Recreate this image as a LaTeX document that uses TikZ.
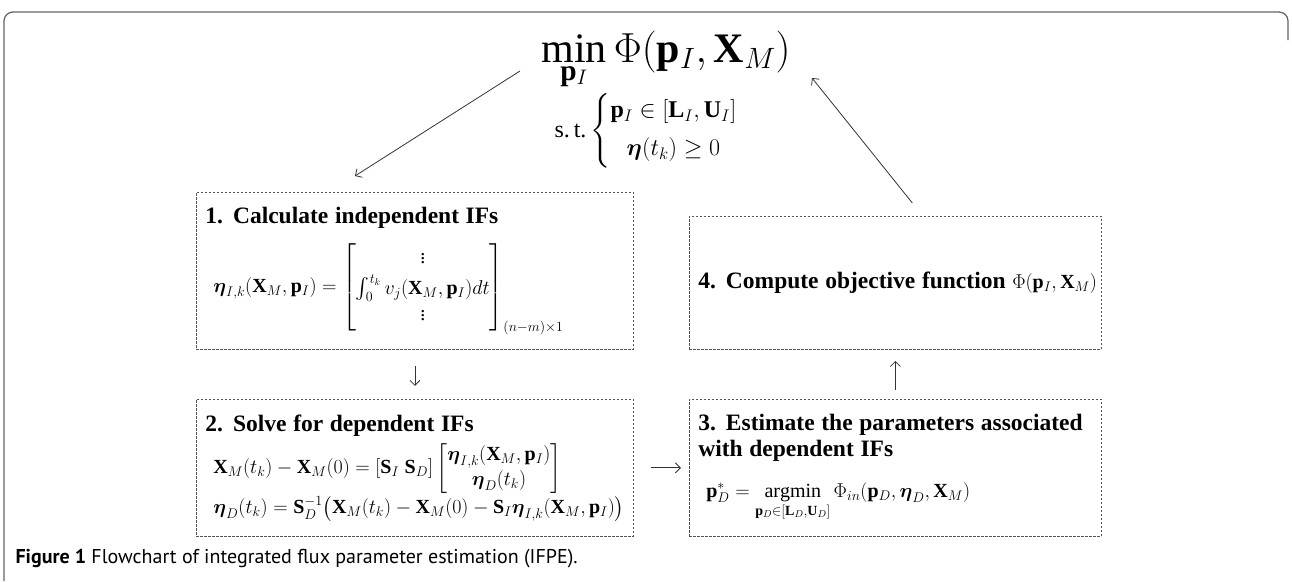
\RequirePackage{fix-cm}
\documentclass[tikz,border=0pt]{standalone}
\usepackage{amsmath}
\usepackage{fontspec}
\setmainfont{Liberation Serif}
\newfontfamily\capfont{PT Sans}
\usepackage{xcolor}
\usepackage{tikz}
\usetikzlibrary{arrows.meta, positioning, calc}
\definecolor{linegray}{HTML}{333333}
\definecolor{dashgray}{HTML}{555555}
\definecolor{framegray}{HTML}{666666}
\newcommand{\steptitle}[1]{{\fontsize{23.5}{28}\selectfont\bfseries #1}}
\newcommand{\bv}[1]{\mathbf{#1}}
\newcommand{\bfeta}{\boldsymbol{\eta}}
\tikzset{
    stepbox/.style={
        draw=dashgray,
        dash pattern=on 2.5pt off 1.5pt,
        line width=0.9pt,
        align=left,
        inner xsep=9pt,
        font=\fontsize{20}{25}\selectfont
    },
    leftbox/.style={stepbox, minimum width=437pt, text width=419pt},
    rightbox/.style={stepbox, minimum width=412pt, text width=394pt},
    formula/.style={inner sep=0pt},
    flow/.style={-{Straight Barb[length=5pt,width=10pt]}, line width=0.8pt, draw=linegray},
    frame/.style={draw=framegray, line width=1.3pt, rounded corners=9pt}
}

\begin{document}
\begin{tikzpicture}[x=1pt, y=-1pt]
    \useasboundingbox (0,0) rectangle (1292,581);
    \draw[frame] (4,581) -- (4,12) -- (1288,12) -- (1288,40);

    % objective and constraints
    \node[formula, anchor=base] (obj) at (666,62)
        {\fontsize{42}{50}\selectfont$\displaystyle\min_{\bv p_I}\Phi(\bv p_I,\bv X_M)$};
    \node[formula] (cons) at (646,131)
        {\fontsize{24}{29}\selectfont$\text{s.\,t.}\left\{\begin{array}{@{}c@{}}\bv p_I\in[\bv L_I,\bv U_I]\\[9pt]\bfeta(t_k)\geq 0\end{array}\right.$};

    % the four steps
    \node[leftbox, minimum height=157pt, anchor=north west] (calcind) at (196,192)
        {\steptitle{1. Calculate independent IFs}\\[14pt]
         \hspace*{8pt}$\bfeta_{I,k}(\bv X_M,\bv p_I)=\begin{bmatrix}\vdots\\[3pt] \int_0^{t_k} v_j(\bv X_M,\bv p_I)dt\\[1pt] \vdots\end{bmatrix}_{(n-m)\times 1}$};
    \node[leftbox, minimum height=137pt, below=49pt of calcind] (solvedep)
        {\steptitle{2. Solve for dependent IFs}\\[6pt]
         \hspace*{8pt}$\bv X_M(t_k)-\bv X_M(0)=[\bv S_I\;\bv S_D]\begin{bmatrix}\bfeta_{I,k}(\bv X_M,\bv p_I)\\ \bfeta_D(t_k)\end{bmatrix}$\\[2pt]
         \hspace*{8pt}$\bfeta_D(t_k)=\bv S_D^{-1}\bigl(\bv X_M(t_k)-\bv X_M(0)-\bv S_I\bfeta_{I,k}(\bv X_M,\bv p_I)\bigr)$};
    \node[rightbox, minimum height=137pt, right=55pt of solvedep] (estpar)
        {\steptitle{3. Estimate the parameters associated}\\[1pt]
         \steptitle{with dependent IFs}\\[16pt]
         \hspace*{8pt}$\displaystyle\bv p_D^{*}=\operatorname*{argmin}_{\bv p_D\in[\bv L_D,\bv U_D]}\Phi_{in}(\bv p_D,\bfeta_D,\bv X_M)$};
    \node[rightbox, minimum height=133pt, above=49pt of estpar] (objfun)
        {\mbox{\steptitle{4. Compute objective function} $\Phi(\bv p_I,\bv X_M)$}};

    \coordinate (objleft) at ([xshift=-146pt,yshift=-9pt]obj.base);
    \coordinate (objright) at ([xshift=146pt,yshift=-16pt]obj.base);

    \draw[flow] (objleft) -- ([xshift=-60pt,yshift=16pt]calcind.north);
    \draw[flow, shorten <=16pt, shorten >=13pt] (calcind) -- (solvedep);
    \draw[flow, shorten <=17pt, shorten >=8pt] (solvedep) -- (estpar);
    \draw[flow, shorten <=9pt, shorten >=11pt] (estpar) -- (objfun);
    \draw[flow] ([xshift=17pt,yshift=13pt]objfun.north) -- (objright);

    \node[anchor=west] (caption) at (12,559)
        {\capfont\fontsize{20}{24}\selectfont\textbf{Figure 1} Flowchart of integrated flux parameter estimation (IFPE).};
\end{tikzpicture}
\end{document}
